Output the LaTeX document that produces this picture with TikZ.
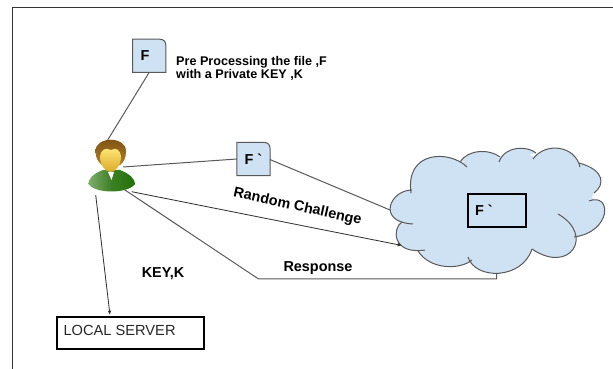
\documentclass[tikz,border=0pt]{standalone}
\usepackage{xcolor}
\usepackage{fontspec}
\setmainfont{Liberation Sans}
\newfontfamily\tickfont{Liberation Sans}
\usetikzlibrary{backgrounds,arrows.meta}
\definecolor{cloudblue}{RGB}{207,226,243}
\definecolor{edgegray}{RGB}{89,89,89}
\definecolor{framegray}{RGB}{51,51,51}
\definecolor{hairdark}{RGB}{122,78,12}
\definecolor{hairlight}{RGB}{176,128,48}
\definecolor{facelight}{RGB}{252,232,120}
\definecolor{facedark}{RGB}{222,170,40}
\definecolor{bodylight}{RGB}{190,215,175}
\definecolor{bodydark}{RGB}{36,112,10}
\newcommand{\cloudlobes}{412/190/390/190/376/222/413/224,
    402/222/392/228/392/255/425/250,
    418/251/430/270/460/270/472/260,
    468/257/475/280/522/280/532/249,
    532/249/570/275/595/235/558/214,
    574/237/612/232/612/192/589/201,
    594/193/605/185/605/170/579/163,
    580/167/575/145/545/142/533/159,
    536/153/528/146/505/145/499/162,
    500/157/490/149/468/149/460/162,
    467/167/450/150/405/150/411/193}
\newcommand{\gravetick}{{\tickfont\bfseries\char"60}}
\newcommand{\docshape}[1]{%
  \begin{pgfonlayer}{background}
    \draw[edgegray,fill=cloudblue,line width=.3mm] (#1.south west) -- (#1.north west) -- ([xshift=-5pt]#1.north east)
      .. controls ([xshift=-2pt]#1.north east) and ([yshift=-2pt]#1.north east) .. ([yshift=-5pt]#1.north east) -- (#1.south east) -- cycle;
  \end{pgfonlayer}}
\tikzstyle{docbox}=[minimum size=9.8mm,inner sep=0pt]
\tikzstyle{boldtext}=[font=\fontsize{10.75pt}{12pt}\selectfont\bfseries,inner sep=0pt]
\tikzstyle{bigtext}=[font=\fontsize{12.3pt}{14pt}\selectfont\bfseries,inner sep=0pt]
\tikzstyle{blackbox}=[draw=black,line width=.6mm,inner sep=0pt]
\tikzstyle{link}=[edgegray,line width=.3mm]
\tikzstyle{tip}=[-{Latex[length=1.3mm,width=1.1mm]},black!80,line width=.25mm]

\begin{document}
\begin{tikzpicture}[x=.3mm,y=-.3mm]
  \useasboundingbox (0,0) rectangle (613,369);
  \draw[framegray,line width=.3mm] (613,7.5) -- (12.5,7.5) -- (12.5,369);

  %% Cloud
  \fill[cloudblue] (411,191) -- (390,206) -- (403,224) -- (397,240) -- (420,250) -- (445,265) -- (470,259) -- (499,274) -- (532,249) -- (572,246)
    -- (574,237) -- (604,214) -- (592,197) -- (602,178) -- (580,165) -- (559,148) -- (534,157) -- (517,148) -- (499,158) -- (480,151) -- (462,163) -- (428,159) -- cycle;
  \foreach \xa/\ya/\xb/\yb/\xc/\yc/\xd/\yd in \cloudlobes {
    \fill[cloudblue] (\xa,\ya) .. controls (\xb,\yb) and (\xc,\yc) .. (\xd,\yd) -- cycle;
  }
  \foreach \xa/\ya/\xb/\yb/\xc/\yc/\xd/\yd in \cloudlobes {
    \draw[link] (\xa,\ya) .. controls (\xb,\yb) and (\xc,\yc) .. (\xd,\yd);
  }
  \draw (496.7,210.5) node[blackbox,minimum width=17.4mm,minimum height=10mm] (cloudbox) {};
  \draw (484,210.5) node[bigtext] (cloudlabel) {F \gravetick};

  %% Files
  \draw (149.2,55.8) node[docbox] (fileF) {};
  \docshape{fileF}
  \draw (145,56) node[bigtext] (fileFlabel) {F};
  \draw (253.5,159) node[docbox] (fileG) {};
  \docshape{fileG}
  \draw (253.5,159) node[bigtext] (fileGlabel) {F \gravetick};

  \draw (55.7,315.7) node[blackbox,anchor=north west,minimum width=44.1mm,minimum height=9.6mm] (server) {};
  \draw (63.3,330) node[anchor=west,inner sep=0pt,font=\fontsize{12.5pt}{14pt}\selectfont,text=black!85] (serverlabel) {LOCAL SERVER};

  %% Attachment points
  \coordinate (userT) at (107.7,140);
  \coordinate (userR) at (123,167);
  \coordinate (userC) at (131.7,191.7);
  \coordinate (userS) at (120,186.7);
  \coordinate (userL) at (95.7,195);
  \coordinate (cloudA) at (390,210);
  \coordinate (cloudB) at (402,245.5);
  \coordinate (cloudC) at (496.7,274);
  \coordinate (bend) at (258.3,278.8);
  \coordinate (serverT) at (110,315);

  \draw[link] (fileF.south) -- (userT);
  \draw[link] (userR) -- (fileG.west);
  \draw[link] ([yshift=-.5pt]fileG.east) -- (cloudA);
  \draw[tip] (userC) -- (cloudB);
  \draw[link] (userS) -- (bend) -- (bend -| cloudC) -- (cloudC);
  \draw[tip] (userL) -- (serverT);

  %% User
  \shade[top color=hairdark,bottom color=hairlight] (95.5,151) .. controls (95.5,136) and (126,136) .. (126,151) .. controls (126,158) and (124,162) .. (120,165) -- (102,165) .. controls (98,162) and (95.5,158) .. cycle;
  \shade[left color=bodylight!60!bodydark,right color=bodydark,middle color=bodydark!85!bodylight] (103,170) .. controls (92,174) and (88,180) .. (88.5,184) .. controls (95,194) and (128,194) .. (135,184) .. controls (135,179) and (130,174) .. (120,170) -- cycle;
  \shade[top color=facelight,bottom color=facedark] (100,156) .. controls (101,150) and (105,147) .. (111,150) .. controls (116,147) and (120,150) .. (121,156) .. controls (121,165) and (116,172) .. (110.5,172) .. controls (105,172) and (100,165) .. cycle;
  \fill[white] (108,172) -- (114,172) -- (111.5,180) -- cycle;

  %% Labels
  \draw (176,62) node[boldtext,anchor=west] (note1) {Pre Processing the file ,F};
  \draw (176,75) node[boldtext,anchor=west] (note2) {with a Private KEY ,K};
  \draw (297.5,207) node[bigtext,rotate=-12.5] (challenge) {Random Challenge};
  \draw (318,268.5) node[bigtext] (response) {Response};
  \draw (163,274) node[bigtext] (keylabel) {KEY,K};
\end{tikzpicture}
\end{document}
